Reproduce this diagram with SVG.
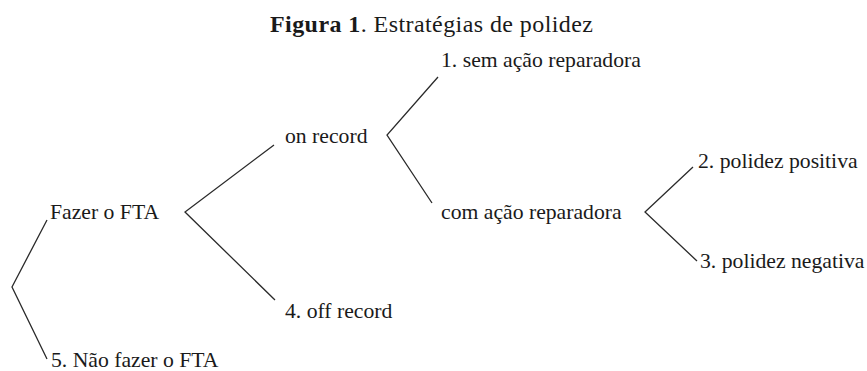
<svg xmlns="http://www.w3.org/2000/svg" width="867" height="371" viewBox="0 0 867 371">
<style>
.t{font-family:"Liberation Serif","Times New Roman",serif;font-size:21.7px;fill:#1a1a1a}
.title{font-family:"Liberation Serif","Times New Roman",serif;font-size:24px;fill:#1a1a1a}
.c{fill:none;stroke:#2a2a2a;stroke-width:1.3;stroke-linejoin:miter}
</style>
<rect width="867" height="371" fill="#ffffff"/>
<text class="title" x="270" y="32" textLength="323" lengthAdjust="spacing"><tspan font-weight="bold">Figura 1</tspan>. Estratégias de polidez</text>
<g id="connectors">
<polyline class="c" points="47,220 12,287 47,359"/>
<polyline class="c" points="274,145 185,212 275,300"/>
<polyline class="c" points="438,77 387,135 432,203"/>
<polyline class="c" points="693,167 645,212 697,261"/>
</g>
<g id="n-fazer"><text class="t" x="50" y="219">Fazer o FTA</text></g>
<g id="n-naofazer"><text class="t" x="51" y="367">5. Não fazer o FTA</text></g>
<g id="n-onrecord"><text class="t" x="285" y="143">on record</text></g>
<g id="n-offrecord"><text class="t" x="285" y="318">4. off record</text></g>
<g id="n-sem"><text class="t" x="441" y="67">1. sem ação reparadora</text></g>
<g id="n-com"><text class="t" x="441" y="219">com ação reparadora</text></g>
<g id="n-positiva"><text class="t" x="698" y="168">2. polidez positiva</text></g>
<g id="n-negativa"><text class="t" x="700" y="268">3. polidez negativa</text></g>
</svg>
